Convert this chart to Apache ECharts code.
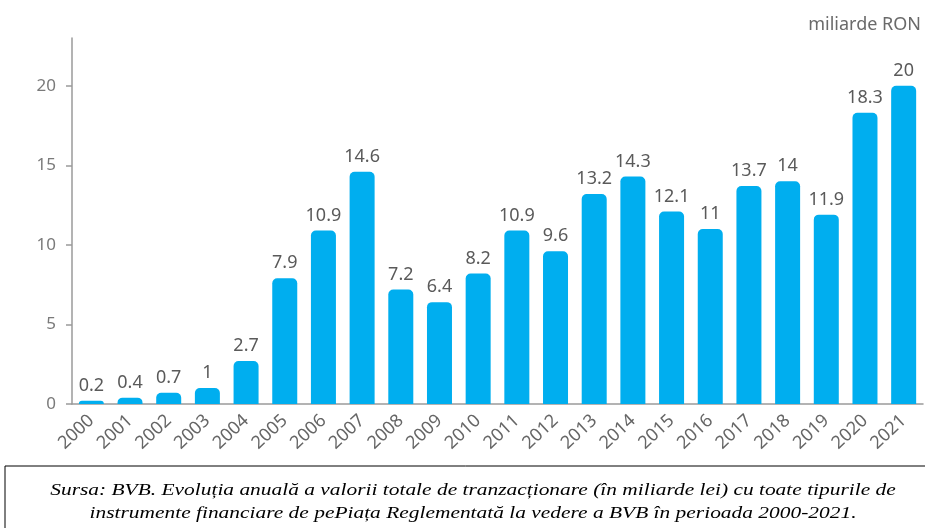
<!DOCTYPE html>
<html><head><meta charset="utf-8">
<script src="https://cdn.jsdelivr.net/npm/echarts@6/dist/echarts.min.js"></script>
<style>html,body{margin:0;padding:0;background:#fff}#c{width:925px;height:528px}</style>
</head><body><div id="c"></div>
<script>
const categories = ['2000','2001','2002','2003','2004','2005','2006','2007','2008','2009','2010','2011','2012','2013','2014','2015','2016','2017','2018','2019','2020','2021'];
const values = [0.2,0.4,0.7,1,2.7,7.9,10.9,14.6,7.2,6.4,8.2,10.9,9.6,13.2,14.3,12.1,11,13.7,14,11.9,18.3,20];
const yTicks = [0,5,10,15,20];
const unitLabel = 'miliarde RON';
const captionLines = ['Sursa: BVB. Evoluția anuală a valorii totale de tranzacționare (în miliarde lei) cu toate tipurile de','instrumente financiare de pePiața Reglementată la vedere a BVB în perioada 2000-2021.'];

const chart = echarts.init(document.getElementById('c'));
const font = 'Noto Sans';
const capStyle = {fill: '#000', fontFamily: 'Liberation Serif', fontStyle: 'italic', fontSize: 17, align: 'center', verticalAlign: 'middle'};
chart.setOption({
  animation: false,
  grid: {left: 72, right: 2, top: 38, bottom: 124},
  xAxis: {
    type: 'category', data: categories,
    axisLine: {lineStyle: {color: '#9a9a9a', width: 1.5}},
    axisTick: {lineStyle: {color: '#9a9a9a', width: 1.5}, length: 6},
    axisLabel: {rotate: 43, color: '#666', fontSize: 18, fontFamily: font, margin: 14, interval: 0}
  },
  yAxis: {
    type: 'value', min: 0, max: 23, interval: 5,
    splitLine: {show: false},
    axisLine: {show: true, lineStyle: {color: '#9a9a9a', width: 1.5}},
    axisTick: {show: true, length: 6, lineStyle: {color: '#9a9a9a', width: 1.5}, customValues: yTicks},
    axisLabel: {color: '#7a7a7a', fontSize: 17, fontFamily: font, margin: 16, customValues: yTicks}
  },
  series: [{
    type: 'bar', data: values, barWidth: 25,
    itemStyle: {color: '#00AEEF', borderRadius: [5,5,0,0]},
    label: {show: true, position: 'top', color: '#5a5a5a', fontSize: 18, fontFamily: font, distance: 6}
  }],
  graphic: [
    {type: 'text', right: 4, top: 16, style: {text: unitLabel, fill: '#6a6a6a', fontSize: 18, fontFamily: 'Noto Sans'}},
    {type: 'rect', shape: {x: 5, y: 466, width: 940, height: 80}, style: {fill: 'none', stroke: '#000', lineWidth: 1}},
    {type: 'text', x: 473, y: 491, scaleX: 1.26, style: Object.assign({text: captionLines[0]}, capStyle)},
    {type: 'text', x: 473, y: 514, scaleX: 1.26, style: Object.assign({text: captionLines[1]}, capStyle)}
  ]
});
</script></body></html>
